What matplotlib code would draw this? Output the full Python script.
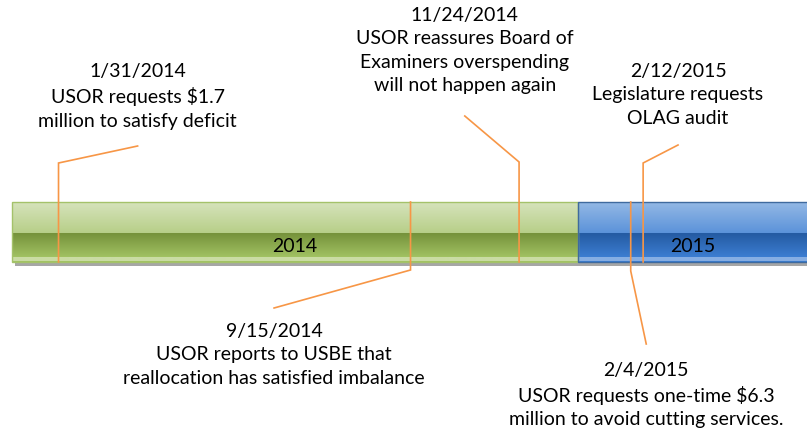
import datetime as dt
import numpy as np
import matplotlib.pyplot as plt
import matplotlib.dates as mdates
from matplotlib.colors import to_rgb
from matplotlib.patches import Rectangle

plt.rcParams['font.family'] = ['Lato', 'DejaVu Sans']

# data
year_labels = ['2014', '2015']
year_starts = ['2014-01-01', '2015-01-01']
year_ends = ['2015-01-01', '2016-01-01']

event_dates = ['2014-01-31', '2014-09-15', '2014-11-24', '2015-02-04', '2015-02-12']
event_labels = [
    '1/31/2014\nUSOR requests $1.7\nmillion to satisfy deficit',
    '9/15/2014\nUSOR reports to USBE that\nreallocation has satisfied imbalance',
    '11/24/2014\nUSOR reassures Board of\nExaminers overspending\nwill not happen again',
    '2/4/2015\nUSOR requests one-time $6.3\nmillion to avoid cutting services.',
    '2/12/2015\nLegislature requests\nOLAG audit',
]

# layout (vertical axis is in pixel rows, 0 at top)
BAR_TOP, BAR_BOT, BAR_MID = 203, 263, 234
above = [True, False, True, False, True]
elbow_y = [164, 271, 163, 272, 164]
end_y = [147, 309, 117, 345, 146]
end_shift = [51, -88, -35, 10, 22.5]   # days, where the leader line meets the text
text_y = [63, 323, 7, 362, 63]

band_colors = {
    '2014': (['#d6e3bb', '#b7cf89'], ['#76923b', '#a2c363'], '#cadca4', '#a4c26a'),
    '2015': (['#93b8e5', '#5c93da'], ['#245ba3', '#3c7ed2'], '#86aee3', '#3f6a9e'),
}

PX_PER_DAY = 566 / 365
origin = dt.date(2014, 1, 1)

fig = plt.figure(figsize=(8.07, 4.35), dpi=100)
ax = fig.add_axes([0, 0, 1, 1])
ax.axis('off')


def to_num(s):
    return mdates.date2num(dt.datetime.strptime(s, '%Y-%m-%d'))


def gradient(top, bottom, strip):
    rows = []
    n_top = BAR_MID - BAR_TOP
    n_bot = BAR_BOT - BAR_MID
    for i in range(n_top):
        t = i / max(n_top - 1, 1)
        rows.append((1 - t) * np.array(to_rgb(top[0])) + t * np.array(to_rgb(top[1])))
    for i in range(n_bot):
        if i >= n_bot - 5 and i < n_bot - 1:
            rows.append(np.array(to_rgb(strip)))
            continue
        t = i / max(n_bot - 5, 1)
        t = min(t, 1)
        rows.append((1 - t) * np.array(to_rgb(bottom[0])) + t * np.array(to_rgb(bottom[1])))
    return np.array(rows)[:, None, :]


# year bands
for lab, s, e in zip(year_labels, year_starts, year_ends):
    x0, x1 = to_num(s), to_num(e)
    top, bottom, strip, edge = band_colors[lab]
    ax.add_patch(Rectangle((x0 + 2, BAR_BOT - 1), x1 - x0, 5, facecolor='#a6a6a6',
                           edgecolor='none', zorder=1))
    ax.imshow(gradient(top, bottom, strip), extent=(x0, x1, BAR_BOT, BAR_TOP),
              origin='upper', aspect='auto', interpolation='bilinear', zorder=2)
    ax.add_patch(Rectangle((x0, BAR_TOP), x1 - x0, BAR_BOT - BAR_TOP, facecolor='none',
                           edgecolor=edge, lw=1.0, zorder=3))

xmin = mdates.date2num(origin) - 12 / PX_PER_DAY
xmax = mdates.date2num(origin) + 795 / PX_PER_DAY

# year labels at centre of visible part of each band
for lab, s, e in zip(year_labels, year_starts, year_ends):
    x0, x1 = max(to_num(s), xmin), min(to_num(e), xmax)
    ax.text((x0 + x1) / 2, 247, lab, ha='center', va='center', fontsize=14, color='black', zorder=5)

# events
for d, lab, up, ey, yy, sh, ty in zip(event_dates, event_labels, above, elbow_y, end_y,
                                        end_shift, text_y):
    x = to_num(d)
    y0 = BAR_BOT if up else BAR_TOP
    ax.plot([x, x, x + sh], [y0, ey, yy], color='#f79646', lw=1.2, zorder=4,
            solid_joinstyle='miter')
    ax.text(x + sh, ty, lab, ha='center', va='top', fontsize=14, linespacing=1.45,
            color='black', zorder=5)

ax.set_xlim(xmin, xmax)
ax.set_ylim(435, 0)

fig.savefig('out.png', dpi=100)
